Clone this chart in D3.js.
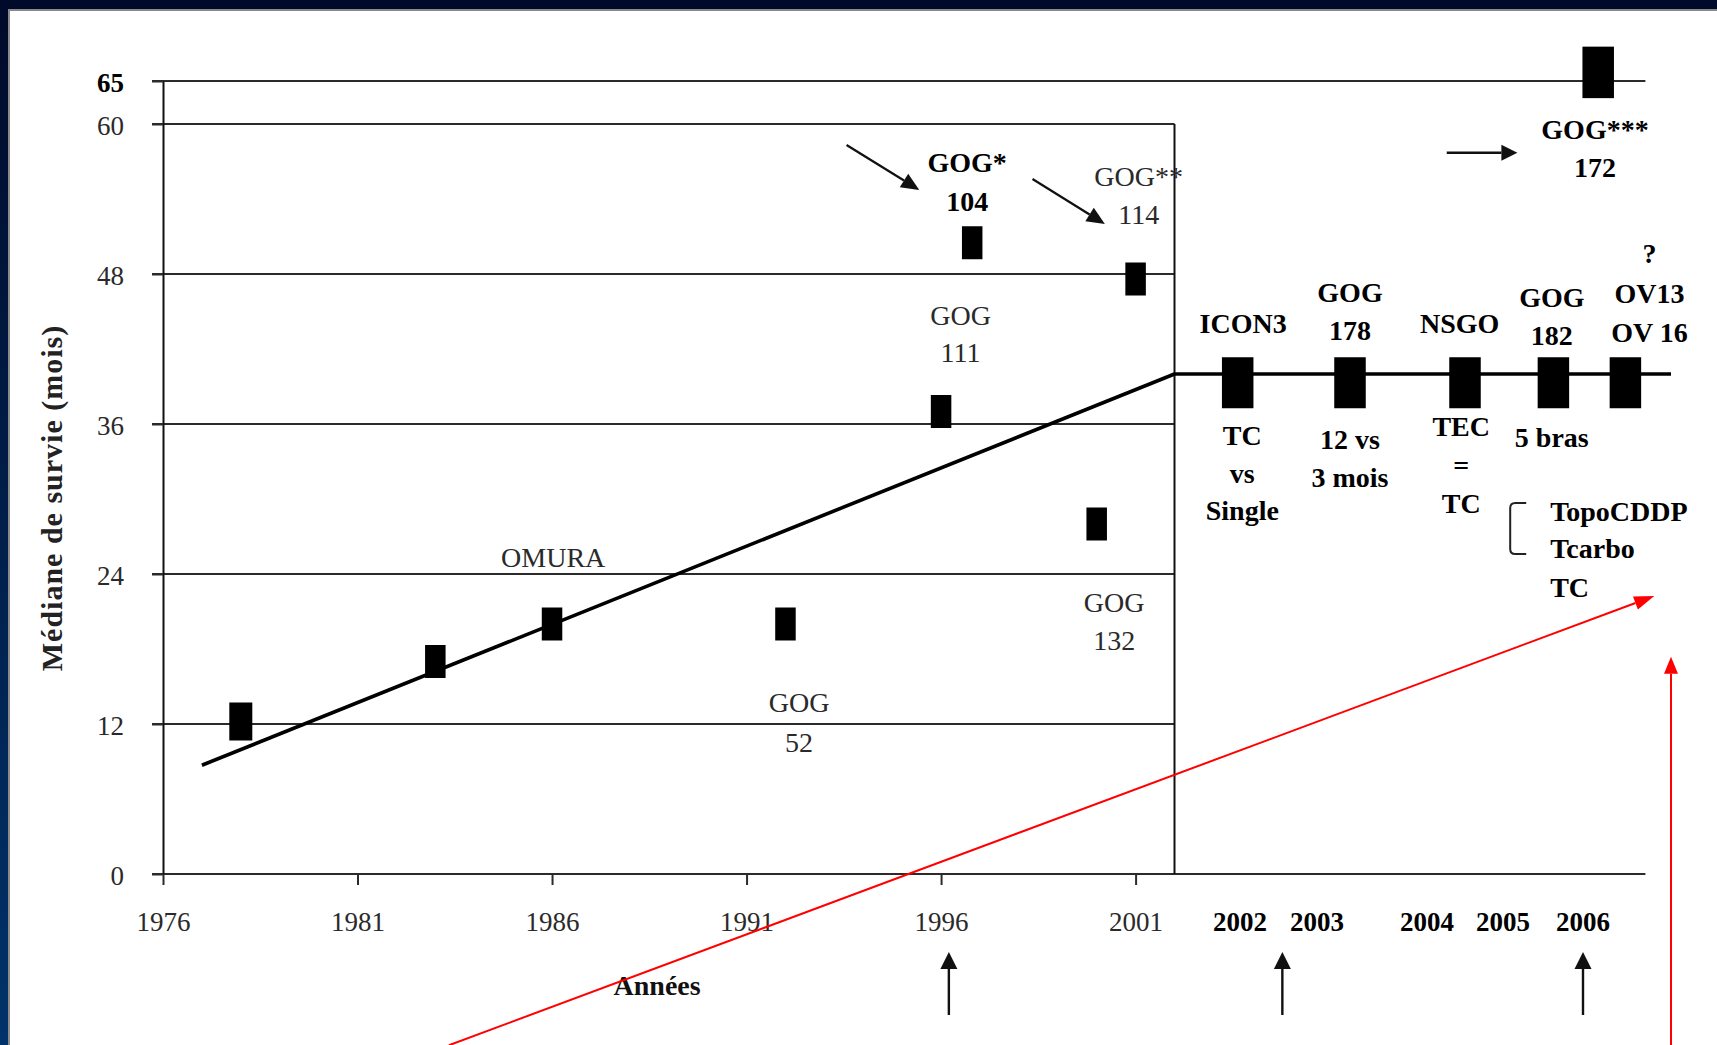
<!DOCTYPE html>
<html><head><meta charset="utf-8">
<script src="https://cdn.jsdelivr.net/npm/d3@7"></script>
<style>html,body{margin:0;padding:0;background:#fff;overflow:hidden}svg{display:block}</style>
</head><body><svg id="chart" width="1717" height="1045"></svg>
<script>
// ---------------- data ----------------
const yTicks = [0, 12, 24, 36, 48, 60, 65];
const yTicksBold = [65];
const gridValuesBox = [12, 24, 36, 48, 60];
const gridValuesFull = [0, 65];
const xTicksLeft = [1976, 1981, 1986, 1991, 1996, 2001];
const yearsRight = [2002, 2003, 2004, 2005, 2006];
const boxEndYear = 2002;
const fullLineEndYear = 2006.78;

// older trials (left panel): year, median survival (months)
const earlyYears  = [1978, 1983, 1986, 1992, 1996, 2000, 1996.8, 2001];
const earlyValues = [12.2, 17,   20,   20,   37,   28,   50.5,   47.6];

// recent trials (right panel)
const recentNames  = ['ICON3', 'GOG 178', 'NSGO', 'GOG 182', 'OV13 / OV16'];
const recentYears  = [2001.97, 2003.3, 2004.5, 2005.63, 2006.53];
const recentValues = [39.3, 39.3, 39.3, 39.3, 39.3];
const gog172 = {year: 2006.19, value: 66};

// trend
const trendLeft = [{year: 1977, value: 8.7}, {year: 2002, value: 40}];
const trendRightEndYear = 2007.1;
const trendRightValue = 40;

// annotations, anchored in data units (year, baseline values per line)
const leftLabels = [
  {lines: ['OMURA'], year: 1986.03, values: [24.6], bold: false},
  {lines: ['GOG', '52'], year: 1992.35, values: [12.96, 9.78], bold: false},
  {lines: ['GOG', '111'], year: 1996.5, values: [43.92, 40.96], bold: false},
  {lines: ['GOG*', '104'], year: 1996.67, values: [56.16, 53.06], bold: true},
  {lines: ['GOG**', '114'], year: 2001.08, values: [55.06, 52.0], bold: false},
  {lines: ['GOG', '132'], year: 2000.45, values: [20.98, 17.92], bold: false}
];
const rightLabels = [
  {lines: ['GOG***', '172'], year: 2006.15, values: [58.78, 55.78]},
  {lines: ['ICON3'], year: 2002.04, values: [43.28]},
  {lines: ['GOG', '178'], year: 2003.3, values: [45.78, 42.72]},
  {lines: ['NSGO'], year: 2004.43, values: [43.28]},
  {lines: ['GOG', '182'], year: 2005.61, values: [45.38, 42.32]},
  {lines: ['?', 'OV13', 'OV 16'], year: 2006.83, values: [48.88, 45.68, 42.58]},
  {lines: ['TC', 'vs', 'Single'], year: 2002.03, values: [34.32, 31.28, 28.32]},
  {lines: ['12 vs', '3 mois'], year: 2003.3, values: [34.0, 30.98]},
  {lines: ['TEC', '=', 'TC'], year: 2004.45, values: [35.04, 31.92, 28.9]},
  {lines: ['5 bras'], year: 2005.61, values: [34.16]}
];
const armLabels = {lines: ['TopoCDDP', 'Tcarbo', 'TC'], year: 2005.59, values: [28.26, 25.28, 22.18]};
const bracket = {year0: 2005.09, year1: 2005.29, value0: 29.68, value1: 25.6};

// arrows in data units
const leftArrows = [
  {from: [1993.57, 58.32], to: [1995.44, 54.72]},
  {from: [1998.35, 55.6], to: [2000.21, 52.0]}
];
const rightArrow = {from: [2004.26, 57.7], to: [2005.18, 57.7]};
const bottomArrows = [{panel: 'left', year: 1996.2}, {panel: 'right', year: 2002.55}, {panel: 'right', year: 2006}];
const xTitle = 'Années';
const yTitle = 'Médiane de survie (mois)';
const xTitleYear = 1988.7;
// red overlay strokes
const redLine = {from: {panel: 'left', year: 1983.35, value: -13.7}, to: {panel: 'right', year: 2006.89, value: 22.24}};
const redVertical = {year: 2007.1, from: -13.7, to: 17.38};

// ---------------- scales ----------------
const svg = d3.select('#chart');
const W = 1717, H = 1045;
const y = d3.scaleLinear().domain([0, 60, 65]).range([874, 124, 81]);
const xL = d3.scaleLinear().domain([1976, 2002]).range([163, 1174.5]);
const xR = d3.scaleLinear().domain(yearsRight).range([1240, 1317, 1427, 1503, 1583]);
const serif = '"Liberation Serif", "Times New Roman", serif';

// ---------------- frame ----------------
const defs = svg.append('defs');
const grad = defs.append('linearGradient').attr('id', 'bg').attr('x1', 0).attr('y1', 0).attr('x2', 0).attr('y2', 1);
grad.append('stop').attr('offset', '0%').attr('stop-color', '#000a2a');
grad.append('stop').attr('offset', '100%').attr('stop-color', '#00336a');
svg.append('rect').attr('width', W).attr('height', H).attr('fill', 'url(#bg)');
svg.append('rect').attr('x', 8).attr('y', 9).attr('width', W - 8).attr('height', H - 9).attr('fill', '#fff');
svg.append('path').attr('d', `M9,${H} V10 H${W}`).attr('fill', 'none').attr('stroke', '#8a8a8a').attr('stroke-width', 2);

const g = svg.append('g');

// ---------------- grid lines ----------------
g.selectAll('line.grid').data(gridValuesBox).join('line')
  .attr('x1', 152).attr('x2', xL(boxEndYear))
  .attr('y1', d => y(d)).attr('y2', d => y(d))
  .attr('stroke', '#2b2b2b').attr('stroke-width', 2);
g.selectAll('line.gridfull').data(gridValuesFull).join('line')
  .attr('x1', 152).attr('x2', xR(fullLineEndYear))
  .attr('y1', d => y(d)).attr('y2', d => y(d))
  .attr('stroke', '#2b2b2b').attr('stroke-width', 2.2);
// box right edge
g.append('line').attr('x1', xL(boxEndYear)).attr('x2', xL(boxEndYear))
  .attr('y1', y(0)).attr('y2', y(60)).attr('stroke', '#111').attr('stroke-width', 2);

// ---------------- axes ----------------
const yAxis = g.append('g').attr('transform', `translate(${xL(1976)},0)`)
  .call(d3.axisLeft(y).tickValues(yTicks).tickSize(11).tickSizeOuter(0).tickPadding(28).tickFormat(d3.format('d')));
yAxis.select('.domain').attr('stroke', '#111').attr('stroke-width', 2);
yAxis.selectAll('.tick line').attr('stroke', '#2b2b2b').attr('stroke-width', 2);
yAxis.selectAll('.tick text')
  .attr('font-family', serif).attr('font-size', 27)
  .attr('dy', '0.38em')
  .attr('font-weight', d => yTicksBold.includes(d) ? 'bold' : 'normal')
  .attr('fill', d => yTicksBold.includes(d) ? '#000' : '#2a2a2a');

const xAxis = g.append('g').attr('transform', `translate(0,${y(0)})`)
  .call(d3.axisBottom(xL).tickValues(xTicksLeft).tickSize(11).tickSizeOuter(0).tickPadding(27).tickFormat(d3.format('d')));
xAxis.select('.domain').remove();
xAxis.selectAll('.tick line').attr('stroke', '#2b2b2b').attr('stroke-width', 2);
xAxis.selectAll('.tick text').attr('font-family', serif).attr('font-size', 27).attr('fill', '#2a2a2a');

g.selectAll('text.yr').data(yearsRight).join('text')
  .attr('x', d => xR(d)).attr('y', y(0) + 57)
  .attr('text-anchor', 'middle').attr('font-family', serif).attr('font-size', 27)
  .attr('font-weight', 'bold').attr('fill', '#000').text(d => d);

// axis titles
g.append('text').attr('x', xL(xTitleYear)).attr('y', y(0) + 121)
  .attr('text-anchor', 'middle').attr('font-family', serif).attr('font-size', 28)
  .attr('font-weight', 'bold').attr('fill', '#111').text(xTitle);
g.append('text').attr('transform', `translate(62,498) rotate(-90)`)
  .attr('text-anchor', 'middle').attr('font-family', serif).attr('font-size', 30)
  .attr('letter-spacing', 1).attr('font-weight', 'bold').attr('fill', '#222').text(yTitle);

// ---------------- trend line ----------------
g.append('path').datum(trendLeft)
  .attr('d', d3.line().x(d => xL(d.year)).y(d => y(d.value)))
  .attr('fill', 'none').attr('stroke', '#000').attr('stroke-width', 3.6);
g.append('path')
  .attr('d', d3.line()([[xL(trendLeft[1].year), y(trendRightValue)], [xR(trendRightEndYear), y(trendRightValue)]]))
  .attr('fill', 'none').attr('stroke', '#000').attr('stroke-width', 3.6);

// ---------------- markers ----------------
const early = earlyYears.map((yr, i) => ({year: yr, value: earlyValues[i], i}));
g.selectAll('rect.early').data(early).join('rect')
  .attr('width', d => d.i === 0 ? 23 : 20.5)
  .attr('height', d => d.i === 0 ? 38 : 33)
  .attr('x', d => xL(d.year) - (d.i === 0 ? 11.5 : 10.25))
  .attr('y', d => y(d.value) - (d.i === 0 ? 19 : 16.5))
  .attr('fill', '#000');

const recent = recentYears.map((yr, i) => ({name: recentNames[i], year: yr, value: recentValues[i]}));
g.selectAll('rect.recent').data(recent).join('rect')
  .attr('width', 31.5).attr('height', 51)
  .attr('x', d => xR(d.year) - 15.75).attr('y', d => y(d.value) - 25.5)
  .attr('fill', '#000');
g.append('rect').datum(gog172)
  .attr('width', 31.5).attr('height', 51.5)
  .attr('x', d => xR(d.year) - 15.75).attr('y', d => y(d.value) - 25.75)
  .attr('fill', '#000');

// ---------------- labels ----------------
function drawLabel(xScale, lab, opts) {
  const t = g.append('text').attr('font-family', serif)
    .attr('font-size', opts.size).attr('font-weight', opts.bold ? 'bold' : 'normal')
    .attr('fill', opts.fill).attr('text-anchor', opts.anchor || 'middle');
  lab.lines.forEach((ln, k) => {
    t.append('tspan').attr('x', xScale(lab.year)).attr('y', y(lab.values[k])).text(ln);
  });
}
leftLabels.forEach(l => drawLabel(xL, l, {size: 28, bold: l.bold, fill: l.bold ? '#000' : '#2a2a2a'}));
rightLabels.forEach(l => drawLabel(xR, l, {size: 28, bold: true, fill: '#000'}));
drawLabel(xR, armLabels, {size: 28, bold: true, fill: '#000', anchor: 'start'});

const bx0 = xR(bracket.year0), bx1 = xR(bracket.year1), by0 = y(bracket.value0), by1 = y(bracket.value1);
g.append('path')
  .attr('d', `M${bx1},${by0} H${bx0 + 5} Q${bx0},${by0} ${bx0},${by0 + 5} V${by1 - 5} Q${bx0},${by1} ${bx0 + 5},${by1} H${bx1}`)
  .attr('fill', 'none').attr('stroke', '#222').attr('stroke-width', 2);

// ---------------- arrows ----------------
function arrow(x1, y1, x2, y2, color, sw, hl, hw) {
  const a = Math.atan2(y2 - y1, x2 - x1);
  const bx = x2 - hl * Math.cos(a), by = y2 - hl * Math.sin(a);
  g.append('line').attr('x1', x1).attr('y1', y1).attr('x2', bx).attr('y2', by)
    .attr('stroke', color).attr('stroke-width', sw);
  g.append('polygon').attr('points', [
    [x2, y2],
    [bx + hw * Math.sin(a), by - hw * Math.cos(a)],
    [bx - hw * Math.sin(a), by + hw * Math.cos(a)]
  ].map(p => p.join(',')).join(' ')).attr('fill', color);
}
leftArrows.forEach(a => arrow(xL(a.from[0]), y(a.from[1]), xL(a.to[0]), y(a.to[1]), '#111', 2.2, 18, 8));
arrow(xR(rightArrow.from[0]), y(rightArrow.from[1]), xR(rightArrow.to[0]), y(rightArrow.to[1]), '#111', 2.4, 16, 8);
bottomArrows.forEach(a => {
  const sx = a.panel === 'left' ? xL : xR;
  arrow(sx(a.year), y(0) + 141, sx(a.year), y(0) + 78, '#111', 2.4, 17, 8.5);
});

// red overlay
const rf = redLine.from, rt = redLine.to;
arrow((rf.panel === 'left' ? xL : xR)(rf.year), y(rf.value), (rt.panel === 'left' ? xL : xR)(rt.year), y(rt.value), '#ff0000', 2, 20, 7);
arrow(xR(redVertical.year), y(redVertical.from), xR(redVertical.year), y(redVertical.to), '#ff0000', 2, 17, 7);
</script>
</body></html>
